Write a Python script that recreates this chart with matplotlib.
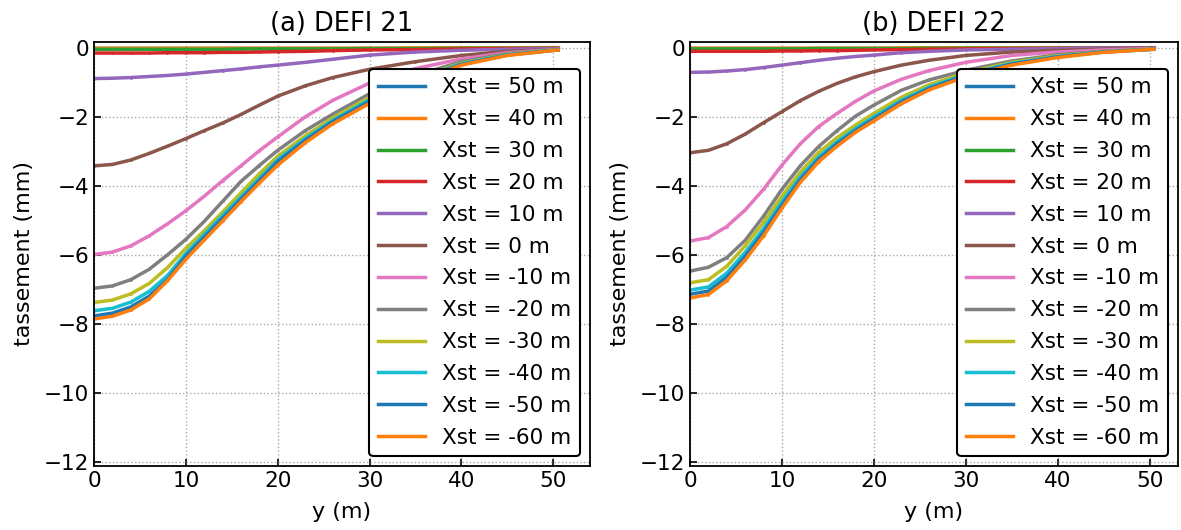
import matplotlib
matplotlib.use("Agg")
import matplotlib.pyplot as plt

# positions along y (m)
y_pos = [0, 2, 4, 6, 8, 10, 12, 14, 16, 18, 20, 23, 26, 30, 35, 40, 45, 50.5]

labels = ["Xst = 50 m", "Xst = 40 m", "Xst = 30 m", "Xst = 20 m", "Xst = 10 m", "Xst = 0 m",
          "Xst = -10 m", "Xst = -20 m", "Xst = -30 m", "Xst = -40 m", "Xst = -50 m", "Xst = -60 m"]

# (a) DEFI 21 - settlement (mm)
defi21_50 = [0.0] * 18
defi21_40 = [-0.01, -0.01, -0.01, -0.01, -0.01, -0.01, -0.01, -0.01, -0.01, -0.01, -0.01, -0.01, -0.01, -0.01, -0.0, -0.0, -0.0, -0.0]
defi21_30 = [-0.04, -0.04, -0.04, -0.04, -0.04, -0.04, -0.04, -0.04, -0.03, -0.03, -0.03, -0.03, -0.03, -0.02, -0.02, -0.01, -0.01, -0.01]
defi21_20 = [-0.15, -0.15, -0.15, -0.15, -0.14, -0.14, -0.14, -0.13, -0.13, -0.12, -0.11, -0.1, -0.08, -0.06, -0.05, -0.03, -0.02, -0.01]
defi21_10 = [-0.89, -0.88, -0.86, -0.83, -0.8, -0.76, -0.71, -0.66, -0.61, -0.55, -0.5, -0.42, -0.33, -0.21, -0.12, -0.07, -0.04, -0.02]
defi21_0 = [-3.42, -3.38, -3.25, -3.06, -2.85, -2.63, -2.4, -2.18, -1.93, -1.66, -1.4, -1.1, -0.86, -0.62, -0.4, -0.22, -0.1, -0.04]
defi21_m10 = [-5.99, -5.92, -5.74, -5.45, -5.1, -4.72, -4.3, -3.85, -3.42, -2.98, -2.58, -2.0, -1.52, -1.02, -0.6, -0.32, -0.14, -0.04]
defi21_m20 = [-6.97, -6.9, -6.72, -6.42, -6.0, -5.55, -5.03, -4.45, -3.87, -3.41, -2.97, -2.4, -1.92, -1.33, -0.8, -0.4, -0.17, -0.05]
defi21_m30 = [-7.38, -7.31, -7.13, -6.83, -6.37, -5.81, -5.3, -4.76, -4.2, -3.65, -3.14, -2.55, -2.03, -1.44, -0.88, -0.44, -0.19, -0.05]
defi21_m40 = [-7.62, -7.55, -7.37, -7.06, -6.6, -5.96, -5.41, -4.86, -4.32, -3.78, -3.24, -2.63, -2.1, -1.5, -0.92, -0.46, -0.2, -0.05]
defi21_m50 = [-7.77, -7.69, -7.51, -7.2, -6.72, -6.04, -5.49, -4.94, -4.39, -3.85, -3.3, -2.68, -2.14, -1.55, -0.95, -0.48, -0.21, -0.06]
defi21_m60 = [-7.86, -7.78, -7.6, -7.28, -6.75, -6.13, -5.57, -5.02, -4.46, -3.92, -3.4, -2.75, -2.2, -1.61, -0.98, -0.5, -0.22, -0.06]

# (b) DEFI 22 - settlement (mm)
defi22_50 = [0.0] * 18
defi22_40 = [-0.01, -0.01, -0.01, -0.01, -0.01, -0.01, -0.01, -0.01, -0.01, -0.01, -0.01, -0.0, -0.0, -0.0, -0.0, -0.0, -0.0, -0.0]
defi22_30 = [-0.03, -0.03, -0.03, -0.03, -0.03, -0.03, -0.03, -0.02, -0.02, -0.02, -0.02, -0.02, -0.01, -0.01, -0.01, -0.01, -0.0, -0.0]
defi22_20 = [-0.1, -0.1, -0.1, -0.1, -0.1, -0.09, -0.09, -0.08, -0.08, -0.07, -0.06, -0.05, -0.04, -0.03, -0.02, -0.01, -0.01, -0.0]
defi22_10 = [-0.71, -0.7, -0.67, -0.63, -0.57, -0.5, -0.43, -0.36, -0.3, -0.25, -0.21, -0.14, -0.1, -0.06, -0.04, -0.02, -0.01, -0.01]
defi22_0 = [-3.04, -2.97, -2.78, -2.5, -2.17, -1.85, -1.53, -1.26, -1.03, -0.84, -0.69, -0.5, -0.36, -0.22, -0.12, -0.07, -0.04, -0.02]
defi22_m10 = [-5.6, -5.5, -5.18, -4.7, -4.1, -3.4, -2.78, -2.28, -1.9, -1.55, -1.25, -0.91, -0.66, -0.42, -0.22, -0.12, -0.06, -0.02]
defi22_m20 = [-6.47, -6.36, -6.08, -5.58, -4.88, -4.1, -3.42, -2.86, -2.4, -1.98, -1.66, -1.23, -0.93, -0.65, -0.38, -0.2, -0.1, -0.03]
defi22_m30 = [-6.81, -6.72, -6.33, -5.74, -5.06, -4.3, -3.6, -3.03, -2.6, -2.24, -1.9, -1.43, -1.07, -0.72, -0.42, -0.23, -0.11, -0.03]
defi22_m40 = [-7.02, -6.93, -6.53, -5.93, -5.24, -4.46, -3.74, -3.16, -2.72, -2.34, -2.0, -1.52, -1.14, -0.77, -0.45, -0.25, -0.12, -0.04]
defi22_m50 = [-7.14, -7.05, -6.65, -6.05, -5.35, -4.56, -3.82, -3.23, -2.78, -2.4, -2.06, -1.57, -1.18, -0.8, -0.47, -0.26, -0.12, -0.04]
defi22_m60 = [-7.25, -7.15, -6.75, -6.15, -5.45, -4.65, -3.9, -3.3, -2.85, -2.45, -2.12, -1.62, -1.22, -0.84, -0.5, -0.28, -0.13, -0.04]

defi21 = [defi21_50, defi21_40, defi21_30, defi21_20, defi21_10, defi21_0,
          defi21_m10, defi21_m20, defi21_m30, defi21_m40, defi21_m50, defi21_m60]
defi22 = [defi22_50, defi22_40, defi22_30, defi22_20, defi22_10, defi22_0,
          defi22_m10, defi22_m20, defi22_m30, defi22_m40, defi22_m50, defi22_m60]

colors = ["#1f77b4", "#ff7f0e", "#2ca02c", "#d62728", "#9467bd", "#8c564b",
          "#e377c2", "#7f7f7f", "#bcbd22", "#17becf", "#1f77b4", "#ff7f0e"]


def settlement_plot(ax, curves, title, xmax):
    for vals, lab, c in zip(curves, labels, colors):
        ax.plot(y_pos, vals, '-', color=c, lw=2.5, marker='.', ms=2, label=lab)
    ax.set_title(title, fontsize=18.5, pad=8)
    ax.set_xlabel("y (m)", fontsize=16, labelpad=8)
    ax.set_ylabel("tassement (mm)", fontsize=16, labelpad=7)
    ax.set_xlim(0, xmax)
    ax.set_ylim(-12.12, 0.17)
    ax.set_xticks([0, 10, 20, 30, 40, 50])
    ax.set_yticks([0, -2, -4, -6, -8, -10, -12])
    ax.tick_params(direction='in', labelsize=15.5, width=1.2, length=5)
    ax.grid(True, linestyle=':', color='#aaaaaa', lw=1)
    for s in ax.spines.values():
        s.set_linewidth(1.3)
    leg = ax.legend(loc='lower right', fontsize=15.5, framealpha=1, edgecolor='black',
                    handlelength=2.2, labelspacing=0.55, borderaxespad=0.45)
    leg.get_frame().set_linewidth(1.5)


fig = plt.figure(figsize=(11.81, 5.30), dpi=100)
ax1 = fig.add_axes([94 / 1181, 64 / 530, 496 / 1181, 424 / 530])
ax2 = fig.add_axes([690 / 1181, 64 / 530, 488 / 1181, 424 / 530])
settlement_plot(ax1, defi21, "(a) DEFI 21", 54.0)
settlement_plot(ax2, defi22, "(b) DEFI 22", 53.1)
fig.savefig("out.png", dpi=100)
